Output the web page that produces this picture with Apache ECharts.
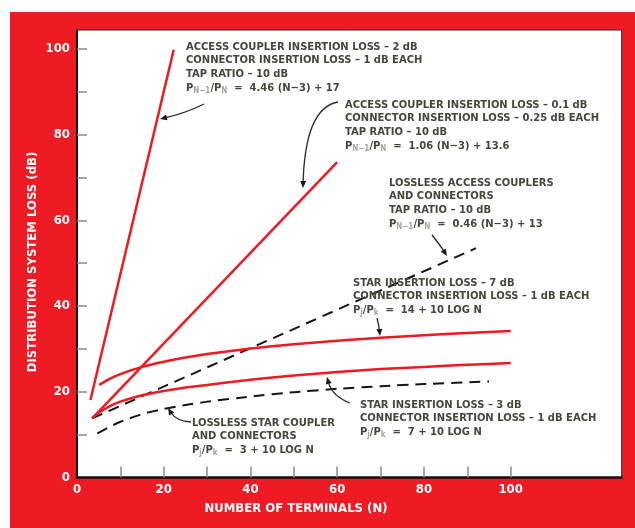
<!DOCTYPE html>
<html><head><meta charset="utf-8">
<script src="https://cdn.jsdelivr.net/npm/echarts@6/dist/echarts.min.js"></script>
<style>
html,body{margin:0;padding:0;background:#fff;width:635px;height:528px;overflow:hidden}
#c{position:absolute;left:10px;top:12px;width:625px;height:516px;background:#ef1b24}
</style></head><body>
<div id="c"></div>
<script>
// ---- data ----
const xLabelValues = [0, 20, 40, 60, 80, 100];
const xTickValues = [10, 20, 30, 40, 50, 60, 70, 80, 90, 100];
const yLabelValues = [0, 20, 40, 60, 80, 100];
const yTickValues = [10, 20, 30, 40, 50, 60, 70, 80, 90, 100];

// Access coupler 2 dB / connector 1 dB : 4.46(N-3)+17
const bus2dB_N = [3.1, 22.3];
const bus2dB_L = [18.1, 99.8];
// Access coupler 0.1 dB / connector 0.25 dB : 1.06(N-3)+13.6
const bus01dB_N = [3.5, 60];
const bus01dB_L = [13.8, 73.6];
// Lossless access couplers : 0.46(N-3)+13
const busLossless_N = [3.5, 92];
const busLossless_L = [13.8, 53.5];
// Star 7 dB : 14+10 log N
const star7_N = [5.1, 7.5, 10, 15, 20, 25, 30, 40, 50, 60, 70, 80, 90, 100];
const star7_L = [21.6, 23.0, 24.1, 25.8, 27.0, 28.0, 28.8, 30.1, 31.1, 31.9, 32.6, 33.2, 33.7, 34.2];
// Star 3 dB : 7+10 log N
const star3_N = [3.5, 5, 7.5, 10, 15, 20, 25, 30, 40, 50, 60, 70, 80, 90, 100];
const star3_L = [13.8, 15.1, 16.6, 17.7, 19.2, 20.2, 21.0, 21.6, 22.8, 23.8, 24.6, 25.3, 25.8, 26.3, 26.7];
// Lossless star : 3+10 log N
const starLossless_N = [4.7, 7.5, 10, 15, 20, 25, 30, 40, 50, 60, 70, 80, 95];
const starLossless_L = [10.3, 11.8, 13.0, 14.8, 16.0, 16.9, 17.7, 18.9, 19.9, 20.7, 21.3, 21.8, 22.4];

const xTitle = 'NUMBER OF TERMINALS (N)';
const yTitle = 'DISTRIBUTION SYSTEM LOSS (dB)';

// ---- styling ----
const LINE_RED = '#ee1a22';
const INK = '#44483a';
const FONT = "'Liberation Sans Narrow','DejaVu Sans Condensed','Liberation Sans',sans-serif";
const OX = 10, OY = 12;
const FS = 11.1;

function pair(xs, ys) { return xs.map((x, i) => [x, ys[i]]); }

function block(x, y, lines) {
  return {
    type: 'text', x: x - OX, y: y - OY, z: 50,
    style: {
      text: lines.join('\n'),
      fill: INK, font: 'bold ' + FS + 'px ' + FONT, lineHeight: 13.7,
      rich: {
        s: { fontSize: 8, fill: '#a4a69a', fontFamily: FONT, fontWeight: 'bold', padding: [5, 0, 0, 0], lineHeight: 13.7 },
        t: { fill: INK, fontSize: FS, fontFamily: FONT, fontWeight: 'bold', lineHeight: 13.7 }
      }
    }
  };
}

function arrow(p0, c, p1) {
  const x0 = p0[0] - OX, y0 = p0[1] - OY, cx = c[0] - OX, cy = c[1] - OY, x1 = p1[0] - OX, y1 = p1[1] - OY;
  let dx = x1 - cx, dy = y1 - cy; const len = Math.hypot(dx, dy) || 1; dx /= len; dy /= len;
  const L = 7, W = 3;
  const bx = x1 - dx * L, by = y1 - dy * L;
  return [
    { type: 'bezierCurve', z: 50, shape: { x1: x0, y1: y0, x2: bx + dx * 2, y2: by + dy * 2, cpx1: cx, cpy1: cy },
      style: { stroke: '#2a2a2a', lineWidth: 1.3, fill: null } },
    { type: 'polygon', z: 50, shape: { points: [[x1, y1], [bx - dy * W, by + dx * W], [bx + dy * W, by - dx * W]] },
      style: { fill: '#1a1a1a' } }
  ];
}

const chart = echarts.init(document.getElementById('c'), null, { renderer: 'canvas' });

const axisLabelStyle = { color: '#fff', fontWeight: 'bold', fontSize: 13, fontFamily: FONT };
const curve = { symbol: 'none', smooth: 0.15 };

const option = {
  backgroundColor: 'transparent',
  animation: false,
  grid: { left: 67, top: 18, right: 13.3, bottom: 50.5, show: true, backgroundColor: '#fff', borderColor: '#2a2a2a', borderWidth: 1 },
  xAxis: {
    type: 'value', min: 0, max: 125.6,
    axisLine: { show: true, lineStyle: { color: '#111', width: 2.5 } },
    axisTick: { show: true, inside: true, length: 11, customValues: xTickValues, lineStyle: { color: '#8a8a8a', width: 1.5 } },
    axisLabel: { customValues: xLabelValues, margin: 6, ...axisLabelStyle },
    splitLine: { show: false }
  },
  yAxis: {
    type: 'value', min: 0, max: 104.4,
    axisLine: { show: true, lineStyle: { color: '#111', width: 2 } },
    axisTick: { show: true, inside: true, length: 10, customValues: yTickValues, lineStyle: { color: '#8a8a8a', width: 1.5 } },
    axisLabel: { customValues: yLabelValues, margin: 7, ...axisLabelStyle },
    splitLine: { show: false }
  },
  series: [
    { type: 'line', data: pair(bus2dB_N, bus2dB_L), symbol: 'none', lineStyle: { color: LINE_RED, width: 2.5 } },
    { type: 'line', data: pair(bus01dB_N, bus01dB_L), symbol: 'none', lineStyle: { color: LINE_RED, width: 2.5 } },
    { type: 'line', data: pair(busLossless_N, busLossless_L), symbol: 'none', lineStyle: { color: '#151515', width: 2, type: [11, 7] } },
    { type: 'line', data: pair(star7_N, star7_L), ...curve, lineStyle: { color: LINE_RED, width: 2.5 } },
    { type: 'line', data: pair(star3_N, star3_L), ...curve, lineStyle: { color: LINE_RED, width: 2.5 } },
    { type: 'line', data: pair(starLossless_N, starLossless_L), ...curve, lineStyle: { color: '#151515', width: 2, type: [11, 7] } }
  ],
  graphic: [
    { type: 'text', x: 33 - OX, y: 262 - OY, rotation: Math.PI / 2, z: 50,
      style: { text: yTitle, fill: '#fff', font: 'bold 13px ' + FONT, textAlign: 'center', textVerticalAlign: 'middle' } },
    { type: 'text', x: 296 - OX, y: 509 - OY, z: 50,
      style: { text: xTitle, fill: '#fff', font: 'bold 13px ' + FONT, textAlign: 'center', textVerticalAlign: 'middle' } },
    block(186, 40, [
      'ACCESS COUPLER INSERTION LOSS – 2 dB',
      'CONNECTOR INSERTION LOSS – 1 dB EACH',
      'TAP RATIO – 10 dB',
      '{t|P}{s|N−1}{t|/P}{s|N}{t|  =  4.46 (N−3) + 17}'
    ]),
    block(345, 98, [
      'ACCESS COUPLER INSERTION LOSS – 0.1 dB',
      'CONNECTOR INSERTION LOSS – 0.25 dB EACH',
      'TAP RATIO – 10 dB',
      '{t|P}{s|N−1}{t|/P}{s|N}{t|  =  1.06 (N−3) + 13.6}'
    ]),
    block(389, 176, [
      'LOSSLESS ACCESS COUPLERS',
      'AND CONNECTORS',
      'TAP RATIO – 10 dB',
      '{t|P}{s|N−1}{t|/P}{s|N}{t|  =  0.46 (N−3) + 13}'
    ]),
    block(353, 276, [
      'STAR INSERTION LOSS – 7 dB',
      'CONNECTOR INSERTION LOSS – 1 dB EACH',
      '{t|P}{s|j}{t|/P}{s|k}{t|  =  14 + 10 LOG N}'
    ]),
    block(360, 398, [
      'STAR INSERTION LOSS – 3 dB',
      'CONNECTOR INSERTION LOSS – 1 dB EACH',
      '{t|P}{s|j}{t|/P}{s|k}{t|  =  7 + 10 LOG N}'
    ]),
    block(192, 416, [
      'LOSSLESS STAR COUPLER',
      'AND CONNECTORS',
      '{t|P}{s|j}{t|/P}{s|k}{t|  =  3 + 10 LOG N}'
    ]),
    ...arrow([204, 104], [186, 113], [160, 119]),
    ...arrow([338, 102], [305, 108], [303, 188]),
    ...arrow([432, 235], [440, 245], [447, 256]),
    ...arrow([377, 318], [379, 326], [380, 336]),
    ...arrow([350, 403], [332, 396], [327, 377]),
    ...arrow([191, 422], [176, 421], [168, 408])
  ]
};
chart.setOption(option);
</script>
</body></html>
